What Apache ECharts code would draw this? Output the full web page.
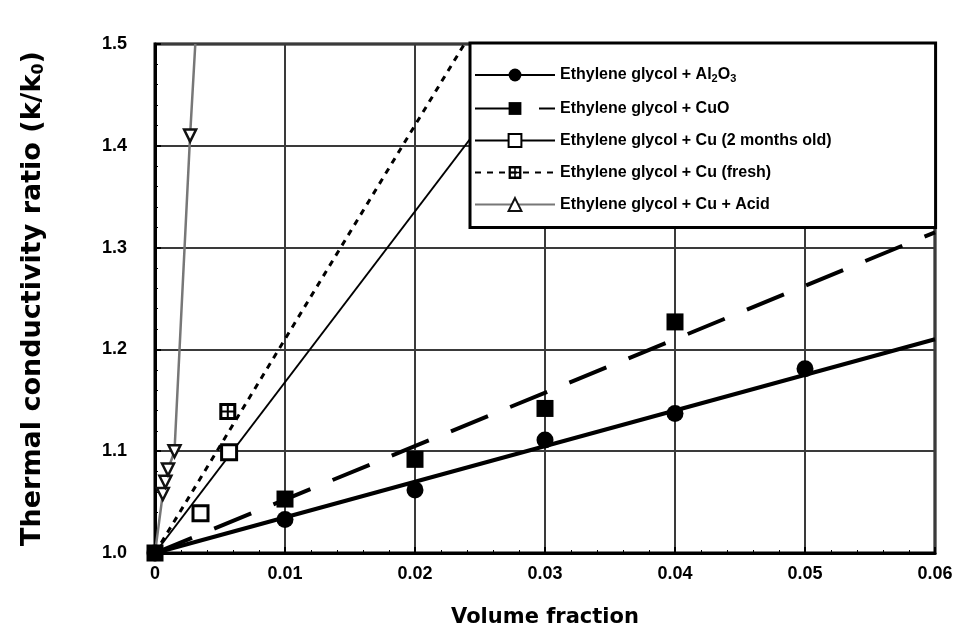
<!DOCTYPE html>
<html>
<head>
<meta charset="utf-8">
<script src="https://cdn.jsdelivr.net/npm/echarts@6/dist/echarts.min.js"></script>
<style>
  html, body { margin: 0; padding: 0; background: #fff; }
  #chart { width: 970px; height: 639px; }
</style>
</head>
<body>
<div id="chart"></div>
<script>
// Measured points for each nanofluid (volume fraction, k/k0)
const al2o3X = [0, 0.01, 0.02, 0.03, 0.04, 0.05];
const al2o3Y = [1.0, 1.033, 1.062, 1.111, 1.137, 1.181];
const cuoX = [0.01, 0.02, 0.03, 0.04];
const cuoY = [1.053, 1.092, 1.142, 1.227];
const cuOldX = [0.0035, 0.0057];
const cuOldY = [1.039, 1.099];
const cuFreshX = [0, 0.0056];
const cuFreshY = [1.0, 1.139];
const cuAcidX = [0.0006, 0.0008, 0.0010, 0.0015, 0.0027];
const cuAcidY = [1.058, 1.070, 1.082, 1.100, 1.410];

// Trend lines (start and end of each line)
const al2o3FitX = [0, 0.06];
const al2o3FitY = [1.0, 1.21];
const cuoFitX = [0, 0.06];
const cuoFitY = [1.0, 1.315];
const cuOldFitX = [0, 0.0298];
const cuOldFitY = [1.0, 1.5];
const cuFreshFitX = [0, 0.0238];
const cuFreshFitY = [1.0, 1.5];
const cuAcidLineX = [0, 0.0006, 0.0008, 0.0010, 0.0015, 0.0027, 0.0031];
const cuAcidLineY = [1.0, 1.058, 1.070, 1.082, 1.100, 1.410, 1.5];

// Axis ticks
const xTicks = [0, 0.01, 0.02, 0.03, 0.04, 0.05, 0.06];
const yTicks = [1.0, 1.1, 1.2, 1.3, 1.4, 1.5];

const names = [
  'Ethylene glycol + Al2O3',
  'Ethylene glycol + CuO',
  'Ethylene glycol + Cu (2 months old)',
  'Ethylene glycol + Cu (fresh)',
  'Ethylene glycol + Cu + Acid'
];

const pairs = (xs, ys) => xs.map((x, i) => [x, ys[i]]);

// black square with four white windows
const crossedSquare = 'path://M0,0H10V10H0Z M1.8,1.8V4.4H4.4V1.8Z M5.6,1.8V4.4H8.2V1.8Z M1.8,5.6V8.2H4.4V5.6Z M5.6,5.6V8.2H8.2V5.6Z';

function fitLine(name, xs, ys, lineStyle, symbol, symbolSize, itemStyle, z) {
  return {
    name, type: 'line', data: pairs(xs, ys),
    showSymbol: false, symbol, symbolSize, itemStyle,
    lineStyle, z: z || 2, silent: true, animation: false
  };
}
function points(name, xs, ys, symbol, symbolSize, itemStyle, extra) {
  return Object.assign({
    name, type: 'scatter', data: pairs(xs, ys),
    symbol, symbolSize, itemStyle, z: 5, animation: false
  }, extra || {});
}

const filled = { color: '#000', borderColor: '#000', borderWidth: 0, opacity: 1 };
const open = { color: '#fff', borderColor: '#000', borderWidth: 3, opacity: 1 };
const openGrey = { color: '#fff', borderColor: '#111', borderWidth: 2.5, opacity: 1 };

const chart = echarts.init(document.getElementById('chart'), null, { renderer: 'canvas' });
chart.setOption({
  backgroundColor: '#fff',
  animation: false,
  grid: {
    left: 155, right: 35, top: 44, bottom: 86,
    show: true, borderColor: '#000', borderWidth: 3, backgroundColor: 'transparent'
  },
  legend: {
    data: names,
    orient: 'vertical',
    left: 470, top: 43,
    padding: [24, 104, 15, 4],
    itemWidth: 80, itemHeight: 16, itemGap: 16,
    backgroundColor: '#fff',
    borderColor: '#000', borderWidth: 3,
    selectedMode: false,
    textStyle: {
      fontFamily: 'Liberation Sans', fontWeight: 'bold', fontSize: 16, color: '#000',
      rich: {
        t: { fontFamily: 'Liberation Sans', fontWeight: 'bold', fontSize: 16, color: '#000' },
        sub: { fontFamily: 'Liberation Sans', fontWeight: 'bold', fontSize: 11, color: '#000', verticalAlign: 'bottom', padding: [8, 0, 0, 0] }
      }
    },
    formatter: function (n) {
      if (n.indexOf('Al2O3') >= 0) return '{t|Ethylene glycol + Al}{sub|2}{t|O}{sub|3}';
      return '{t|' + n + '}';
    }
  },
  xAxis: {
    type: 'value', min: 0, max: 0.06, interval: 0.01,
    name: 'Volume fraction', nameLocation: 'middle', nameGap: 54,
    nameTextStyle: { fontFamily: 'DejaVu Sans', fontWeight: 'bold', fontSize: 21, color: '#000' },
    axisLine: { show: true, lineStyle: { color: '#000', width: 3 } },
    axisTick: { show: true, inside: true, length: 6, lineStyle: { color: '#000', width: 2 } },
    minorTick: { show: true, splitNumber: 5, length: 3, lineStyle: { color: '#000', width: 1 } },
    axisLabel: {
      margin: 12, fontFamily: 'Liberation Sans', fontWeight: 'bold', fontSize: 18, color: '#000',
      formatter: v => {
        const t = xTicks.find(k => Math.abs(k - v) < 1e-9);
        return t === 0 ? '0' : t.toFixed(2);
      }
    },
    splitLine: { show: true, lineStyle: { color: '#3a3a3a', width: 2 } }
  },
  yAxis: {
    type: 'value', min: 1.0, max: 1.5, interval: 0.1,
    name: 'Thermal conductivity ratio (k/k{sub|0})', nameLocation: 'middle', nameGap: 108, nameRotate: 90,
    nameTextStyle: {
      fontFamily: 'DejaVu Sans', fontWeight: 'bold', fontSize: 27, color: '#000',
      rich: { sub: { fontFamily: 'DejaVu Sans', fontWeight: 'bold', fontSize: 16, color: '#000', verticalAlign: 'bottom', padding: [12, 0, 0, 0] } }
    },
    axisLine: { show: true, lineStyle: { color: '#000', width: 3 } },
    axisTick: { show: true, inside: true, length: 6, lineStyle: { color: '#000', width: 2 } },
    minorTick: { show: true, splitNumber: 5, length: 3, lineStyle: { color: '#000', width: 1 } },
    axisLabel: {
      margin: 28, fontFamily: 'Liberation Sans', fontWeight: 'bold', fontSize: 18, color: '#000',
      formatter: v => {
        const t = yTicks.find(k => Math.abs(k - v) < 1e-9);
        return t.toFixed(1);
      }
    },
    splitLine: { show: true, lineStyle: { color: '#3a3a3a', width: 2 } }
  },
  series: [
    fitLine(names[0], al2o3FitX, al2o3FitY, { color: '#000', width: 4, type: 'solid' }, 'circle', 15, filled),
    fitLine(names[1], cuoFitX, cuoFitY, { color: '#000', width: 4, type: [40, 24] }, 'rect', 15, filled),
    fitLine(names[2], cuOldFitX, cuOldFitY, { color: '#000', width: 2, type: 'solid' }, 'rect', 14, open),
    fitLine(names[3], cuFreshFitX, cuFreshFitY, { color: '#000', width: 3, type: [6, 6] }, crossedSquare, 15, filled),
    fitLine(names[4], cuAcidLineX, cuAcidLineY, { color: '#777', width: 2.5, type: 'solid' }, 'triangle', 13, openGrey),
    points(names[0], al2o3X, al2o3Y, 'circle', 17, filled),
    points(names[1], cuoX, cuoY, 'rect', 17, filled),
    points(names[2], cuOldX, cuOldY, 'rect', 15, open),
    points(names[3], cuFreshX, cuFreshY, crossedSquare, 17, filled),
    points(names[4], cuAcidX, cuAcidY, 'triangle', 12, openGrey, { symbolRotate: 180 })
  ]
});
</script>
</body>
</html>
